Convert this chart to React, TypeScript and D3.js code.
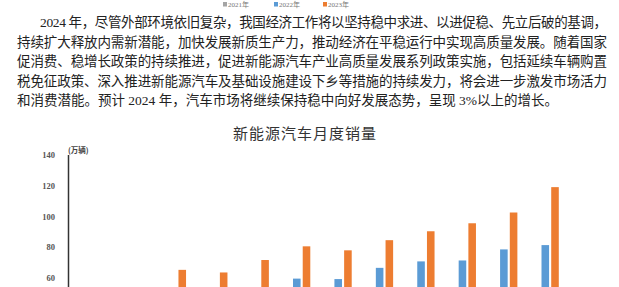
import React, { Component } from "react";
import * as d3 from "d3";

// monthly NEV sales, unit: 万辆
const months = ["1月", "2月", "3月", "4月", "5月", "6月", "7月", "8月", "9月", "10月", "11月", "12月"];
const sales2021 = [17.9, 11.0, 22.6, 20.6, 21.7, 25.6, 27.1, 32.1, 35.7, 38.3, 45.0, 53.1];
const sales2022 = [43.1, 33.4, 48.4, 29.9, 44.7, 59.6, 59.3, 66.6, 70.8, 71.4, 78.6, 81.4];
const sales2023 = [40.8, 52.5, 65.3, 63.6, 71.7, 80.6, 78.0, 84.6, 90.4, 95.6, 102.6, 119.1];
const seriesNames = ["2021年", "2022年", "2023年"];
const yTicks = [60, 80, 100, 120, 140];

const paragraphLines = [
  "2024 年，尽管外部环境依旧复杂，我国经济工作将以坚持稳中求进、以进促稳、先立后破的基调，",
  "持续扩大释放内需新潜能，加快发展新质生产力，推动经济在平稳运行中实现高质量发展。随着国家",
  "促消费、稳增长政策的持续推进，促进新能源汽车产业高质量发展系列政策实施，包括延续车辆购置",
  "税免征政策、深入推进新能源汽车及基础设施建设下乡等措施的持续发力，将会进一步激发市场活力",
  "和消费潜能。预计 2024 年，汽车市场将继续保持稳中向好发展态势，呈现 3%以上的增长。",
];

class NevChart extends Component {
  constructor(props) {
    super(props);
    this.body = React.createRef();
    this.width = 619;
    this.height = 287;
    this.colors = ["#a5a5a5", "#5b9bd5", "#ed7d31"];
    this.xScale = d3.scaleBand().domain(months).range([69, 566]);
    this.subScale = d3.scaleBand().domain(seriesNames).range([-13.5, 13.5]).paddingInner(0.22);
    this.yScale = d3.scaleLinear().domain([60, 140]).range([278, 155]);
    this.renderText = this.renderText.bind(this);
    this.renderLegend = this.renderLegend.bind(this);
    this.renderAxisY = this.renderAxisY.bind(this);
    this.renderBars = this.renderBars.bind(this);
  }

  renderText(svg) {
    const font = "'Liberation Serif', 'Noto Sans CJK SC', serif";
    const starts = [40, 17, 17, 17, 17];
    const baselines = [27, 46.5, 66, 85.5, 105];
    paragraphLines.forEach((line, i) => {
      const t = svg
        .append("text")
        .attr("x", starts[i])
        .attr("y", baselines[i])
        .attr("font-family", font)
        .attr("font-size", 13.5)
        .attr("fill", "#222")
        .text(line);
      if (i < paragraphLines.length - 1) {
        t.attr("textLength", 607 - starts[i]).attr("lengthAdjust", "spacing");
      }
    });

    svg
      .append("text")
      .attr("x", 305)
      .attr("y", 139)
      .attr("text-anchor", "middle")
      .attr("font-family", "'Noto Sans CJK SC', sans-serif")
      .attr("font-size", 15)
      .attr("letter-spacing", 1)
      .attr("fill", "#333")
      .text("新能源汽车月度销量");
  }

  renderLegend(svg) {
    // legend sits at the very top edge, as in the cropped page
    const xs = [223, 274, 323];
    seriesNames.forEach((name, i) => {
      svg
        .append("rect")
        .attr("x", xs[i])
        .attr("y", 2)
        .attr("width", 4)
        .attr("height", 4.5)
        .attr("fill", this.colors[i]);
      svg
        .append("text")
        .attr("x", xs[i] + 5)
        .attr("y", 7)
        .attr("font-family", "'Liberation Serif', 'Noto Sans CJK SC', serif")
        .attr("font-size", 7)
        .attr("fill", "#777")
        .text(name);
    });
  }

  renderAxisY(svg) {
    const axis = d3.axisLeft(this.yScale).tickValues(yTicks).tickSize(0).tickPadding(14);
    const g = svg.append("g").attr("transform", "translate(69,0)").call(axis);
    g.select(".domain").remove();
    g.selectAll("text")
      .attr("font-family", "'Liberation Serif', serif")
      .attr("font-size", 8.5)
      .attr("font-weight", "bold")
      .attr("fill", "#555");

    svg
      .append("line")
      .attr("x1", 68.5)
      .attr("x2", 68.5)
      .attr("y1", this.yScale(140))
      .attr("y2", this.height)
      .attr("stroke", "#333")
      .attr("stroke-width", 1.5);

    svg
      .append("text")
      .attr("x", 68)
      .attr("y", 153)
      .attr("font-family", "'Noto Sans CJK SC', sans-serif")
      .attr("font-size", 7.5)
      .attr("font-weight", "bold")
      .attr("fill", "#444")
      .text("(万辆)");
  }

  renderBars(svg) {
    const series = [sales2021, sales2022, sales2023];
    const bottom = this.yScale(0);
    series.forEach((values, si) => {
      svg
        .append("g")
        .selectAll("rect")
        .data(values)
        .enter()
        .append("rect")
        .attr("x", (d, i) => this.xScale(months[i]) + this.xScale.bandwidth() / 2 + this.subScale(seriesNames[si]))
        .attr("y", d => this.yScale(d))
        .attr("width", this.subScale.bandwidth())
        .attr("height", d => bottom - this.yScale(d))
        .attr("fill", this.colors[si]);
    });
  }

  componentDidMount() {
    const root = d3.select(this.body.current);
    root.selectAll("*").remove();
    const svg = root
      .append("svg")
      .attr("width", this.width)
      .attr("height", this.height)
      .style("position", "absolute")
      .style("left", 0)
      .style("top", 0)
      .style("background", "#fff");

    this.renderText(svg);
    this.renderLegend(svg);
    this.renderBars(svg);
    this.renderAxisY(svg);
  }

  render() {
    return <div ref={this.body} />;
  }
}

export default function App() {
  return <NevChart />;
}
